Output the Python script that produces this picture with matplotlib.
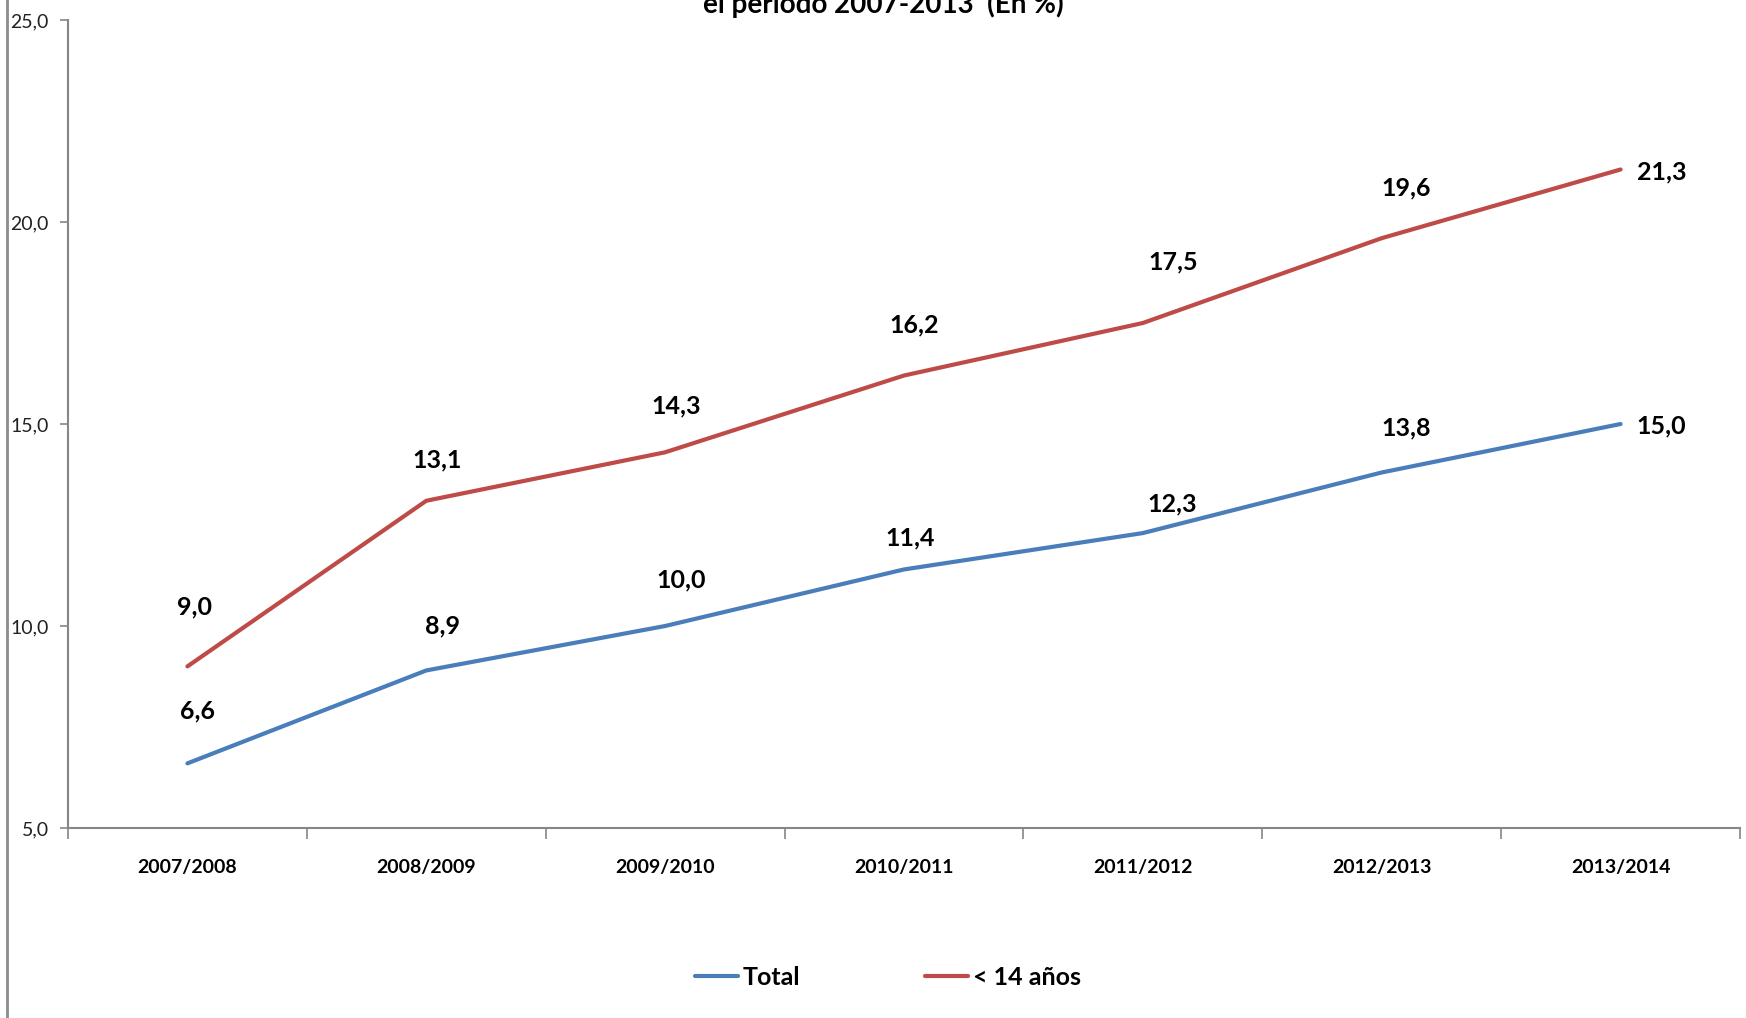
import matplotlib
matplotlib.use("Agg")
import matplotlib.pyplot as plt
from matplotlib import font_manager
from matplotlib.lines import Line2D

# fuente parecida a Calibri (estrecha)
names = {f.name for f in font_manager.fontManager.ttflist}
base = "Liberation Sans Narrow" if "Liberation Sans Narrow" in names else "Lato"
plt.rcParams["font.family"] = [base, "DejaVu Sans"]

cursos = ["2007/2008", "2008/2009", "2009/2010", "2010/2011",
          "2011/2012", "2012/2013", "2013/2014"]
total = [6.6, 8.9, 10.0, 11.4, 12.3, 13.8, 15.0]
menores_14 = [9.0, 13.1, 14.3, 16.2, 17.5, 19.6, 21.3]

# desplazamiento de las etiquetas (pixeles)
off_total = [(10, 52), (16, 45), (16, 46), (6, 32), (29, 29), (24, 45), (41, -2)]
off_menores = [(7, 59), (11, 41), (11, 46), (10, 51), (30, 61), (24, 50), (41, -2)]

azul = "#4A7EBB"
rojo = "#BE4B48"
gris = "#868686"

fig = plt.figure(figsize=(17.46, 10.18), dpi=100)
ax = fig.add_axes([68 / 1746, 1 - 828 / 1018, (1740 - 68) / 1746, (828 - 20) / 1018])

x = list(range(len(cursos)))
ax.plot(x, total, color=azul, lw=3, solid_capstyle="round", label="Total")
ax.plot(x, menores_14, color=rojo, lw=3, solid_capstyle="round", label="< 14 años")

for xi, v, o in zip(x, total, off_total):
    ax.annotate(f"{v:.1f}".replace(".", ","), (xi, v), xytext=o,
                textcoords="offset pixels", ha="center", va="center",
                fontsize=18, fontweight="bold")
for xi, v, o in zip(x, menores_14, off_menores):
    ax.annotate(f"{v:.1f}".replace(".", ","), (xi, v), xytext=o,
                textcoords="offset pixels", ha="center", va="center",
                fontsize=18, fontweight="bold")

ax.set_xlim(-0.5, len(cursos) - 0.5)
ax.set_ylim(5, 25)
ax.set_yticks([5, 10, 15, 20, 25])
ax.set_yticklabels([f"{v:.1f}".replace(".", ",") for v in [5, 10, 15, 20, 25]],
                   fontsize=14, color="#222222")
ax.set_xticks([i - 0.5 for i in range(len(cursos) + 1)])
ax.set_xticklabels([])
ax.set_xticks(x, minor=True)
ax.set_xticklabels(cursos, minor=True, fontsize=14, fontweight="bold")
ax.tick_params(axis="x", which="major", length=8, color=gris, width=1.2, direction="out")
ax.tick_params(axis="x", which="minor", length=0, pad=22)
ax.tick_params(axis="y", length=6, color=gris, width=1.2, pad=8)

for s in ["top", "right"]:
    ax.spines[s].set_visible(False)
for s in ["left", "bottom"]:
    ax.spines[s].set_color(gris)
    ax.spines[s].set_linewidth(1.5)

fig.legend(loc="center", bbox_to_anchor=(0.5086, 0.040), ncol=2, frameon=False,
           handlelength=1.7, handletextpad=0.2, columnspacing=5.0,
           prop={"size": 18, "weight": "bold"})

# titulo recortado por arriba
fig.text(0.506, 1 - 13 / 1018, "el período 2007-2013  (En %)", ha="center",
         va="baseline", fontsize=20, fontweight="bold")

# borde izquierdo del area del grafico
fig.add_artist(Line2D([7 / 1746, 7 / 1746], [0, 1], color="#8c8c8c", lw=2,
                      transform=fig.transFigure))

fig.savefig("out.png", dpi=100)
